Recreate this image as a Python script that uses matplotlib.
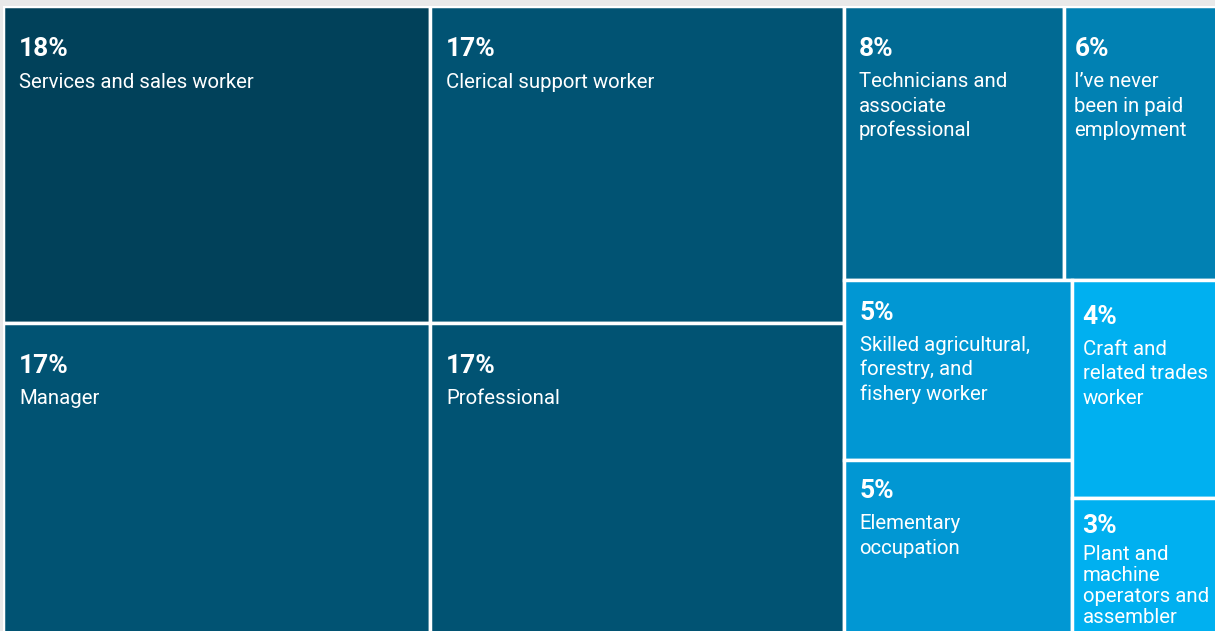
import matplotlib
matplotlib.use("Agg")
import matplotlib.pyplot as plt
from matplotlib.patches import Rectangle
from matplotlib.transforms import offset_copy

# ---- data ----
categories = [
    "Services and sales worker",
    "Manager",
    "Clerical support worker",
    "Professional",
    "Technicians and\nassociate\nprofessional",
    "I\u2019ve never\nbeen in paid\nemployment",
    "Skilled agricultural,\nforestry, and\nfishery worker",
    "Elementary\noccupation",
    "Craft and\nrelated trades\nworker",
    "Plant and\nmachine\noperators and\nassembler",
]
values = [17.8, 17.4, 17.25, 16.85, 7.9, 5.5, 5.4, 5.2, 4.15, 2.55]
pct_labels = [18, 17, 17, 17, 8, 6, 5, 5, 4, 3]
colors = ["#01415a", "#015373", "#015373", "#015373", "#016a93",
          "#0181b3", "#0197d3", "#0197d3", "#00b0f0", "#00b0f0"]

# nesting of the treemap (h = side by side, v = stacked)
tree = ("h", [("v", [0, 1]),
              ("v", [2, 3]),
              ("v", [("h", [4, 5]),
                     ("h", [("v", [6, 7]), ("v", [8, 9])])])])


def total(node):
    if isinstance(node, int):
        return values[node]
    return sum(total(c) for c in node[1])


def layout(node, x, y, w, h, out):
    if isinstance(node, int):
        out[node] = (x, y, w, h)
        return
    kind, children = node
    s = total(node)
    pos = 0.0
    for c in children:
        f = total(c) / s
        if kind == "h":
            layout(c, x + pos * w, y, f * w, h, out)
        else:
            layout(c, x, y + pos * h, w, f * h, out)
        pos += f


FW, FH = 1215, 631
fig = plt.figure(figsize=(FW / 100, FH / 100), dpi=100)
fig.patch.set_facecolor("#e9e9e9")

L, T, R, B = 3.25, 6.25, 1216.75, 632.75
ax = fig.add_axes([L / FW, (FH - B) / FH, (R - L) / FW, (B - T) / FH])
ax.set_facecolor("white")
W, H = R - L, B - T
ax.set_xlim(0, W)
ax.set_ylim(H, 0)
ax.axis("off")
ax.patch.set_visible(True)

rects = {}
layout(tree, 0, 0, W, H, rects)

font = "Roboto"
GAP, LINE = 31.0, 24.5
for i in range(len(values)):
    x, y, w, h = rects[i]
    ax.add_patch(Rectangle((x, y), w, h, facecolor=colors[i],
                           edgecolor="white", linewidth=2.5))
    vis_h = min(h, FH - T - y - 1.75) - 1.75
    vis_w = min(w, FW - L - x - 1.75) - 1.75
    padx = max(5, min(14, 0.06 * vis_w)) + 1.75
    pady = max(12, min(30, 0.11 * vis_h)) + 1.75
    base = pady + 18.5
    lines = categories[i].split("\n")
    need = GAP + LINE * (len(lines) - 1)
    avail = vis_h + 1.75 - base - 6
    sc = min(1.0, avail / need)
    tr = offset_copy(ax.transData, fig=fig, x=padx, y=-base, units="dots")
    ax.text(x, y, f"{pct_labels[i]}%", transform=tr, color="white",
            fontsize=19, fontweight="bold", family=font,
            va="baseline", ha="left")
    for k, line in enumerate(lines):
        tr = offset_copy(ax.transData, fig=fig, x=padx,
                         y=-(base + sc * (GAP + LINE * k)), units="dots")
        ax.text(x, y, line, transform=tr, color="white",
                fontsize=14.7, family=font, va="baseline", ha="left")

fig.savefig("out.png", dpi=100, facecolor=fig.get_facecolor())
